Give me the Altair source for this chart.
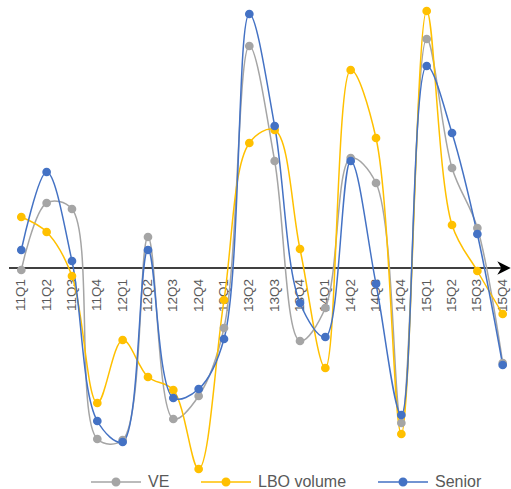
import altair as alt
import pandas as pd

quarters = ["11Q1", "11Q2", "11Q3", "11Q4", "12Q1", "12Q2", "12Q3", "12Q4",
            "13Q1", "13Q2", "13Q3", "13Q4", "14Q1", "14Q2", "14Q3", "14Q4",
            "15Q1", "15Q2", "15Q3", "15Q4"]
ve = [-2, 65, 59, -171, -172, 31, -151, -128, -60, 222, 107, -73, -40, 110, 85, -155, 229, 100, 40, -95]
lbo = [51, 36, -8, -135, -72, -109, -122, -201, -32, 125, 138, 19, -100, 198, 130, -166, 257, 43, -3, -46]
senior = [18, 96, 7, -153, -174, 18, -130, -121, -71, 254, 142, -35, -69, 107, -16, -147, 202, 135, 34, -97]

series_names = ["VE", "LBO volume", "Senior"]
series_colors = ["#A5A5A5", "#FFC000", "#4472C4"]

rows = []
for k, (name, vals) in enumerate(zip(series_names, [ve, lbo, senior])):
    for i, (q, v) in enumerate(zip(quarters, vals)):
        rows.append({"i": i, "q": q, "v": v, "s": name, "o": k})
df = pd.DataFrame(rows)
qdf = pd.DataFrame({"i": list(range(len(quarters))), "q": quarters})
zdf = pd.DataFrame({"zero": [0]})

xscale = alt.Scale(domain=[-0.8407, 19.3276], nice=False, zero=False)
yscale = alt.Scale(domain=[-221, 268], zero=False, nice=False)
legend_path = "M-1,0H1M0.15,0A0.15,0.15,0,1,1,-0.15,0A0.15,0.15,0,1,1,0.15,0"

labels = alt.Chart(qdf).mark_text(
    angle=270, align="right", baseline="middle", fontSize=13.5,
    font="Liberation Sans", color="#595959"
).encode(
    x=alt.X("i:Q", scale=xscale, axis=None),
    y=alt.value(279),
    text="q:N",
)

axis_line = alt.Chart(zdf).mark_rule(color="#404040", strokeWidth=2).encode(
    x=alt.value(9), x2=alt.value(504), y=alt.Y("zero:Q", scale=yscale, axis=None)
)
arrow = alt.Chart(zdf).mark_point(
    shape="M-1,-1L1,0L-1,1L-0.4,0Z", filled=True, color="#000000", size=180, opacity=1
).encode(x=alt.value(504), y=alt.Y("zero:Q", scale=yscale, axis=None))

color_scale = alt.Scale(domain=series_names, range=series_colors)
leg = alt.Legend(
    title=None, orient="none", legendX=90, legendY=456, direction="horizontal",
    symbolType=legend_path, symbolSize=2500, symbolStrokeWidth=1.5,
    labelOffset=6, columnPadding=28, labelFontSize=16, labelFont="Liberation Sans",
    labelColor="#595959", padding=0, symbolOpacity=1,
)

lines = alt.Chart(df).mark_line(interpolate="catmull-rom", strokeWidth=1.5).encode(
    x=alt.X("i:Q", scale=xscale, axis=None),
    y=alt.Y("v:Q", scale=yscale, axis=None),
    stroke=alt.Stroke("s:N", scale=color_scale, legend=leg, sort=series_names),
    detail="s:N",
)
points = alt.Chart(df).mark_point(filled=True, size=45, opacity=1).encode(
    x=alt.X("i:Q", scale=xscale, axis=None),
    y=alt.Y("v:Q", scale=yscale, axis=None),
    fill=alt.Fill("s:N", scale=color_scale, legend=leg, sort=series_names),
    stroke=alt.Stroke("s:N", scale=color_scale, legend=leg, sort=series_names),
    order="o:Q",
)

chart = alt.layer(labels, axis_line, arrow, lines, points).properties(
    width=511, height=489, autosize=alt.AutoSizeParams(type="none"), padding=0
).configure_view(stroke=None)

chart.save("out.html", embed_options={"renderer": "svg", "actions": False})
